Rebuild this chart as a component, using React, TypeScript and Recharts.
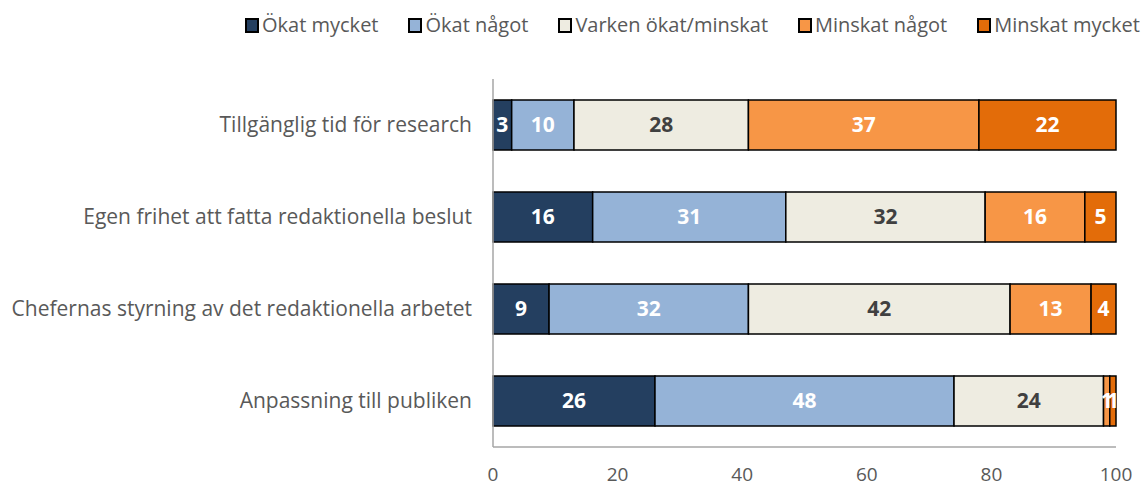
import { BarChart, Bar, XAxis, YAxis, LabelList } from 'recharts'

const categories = [
  'Tillgänglig tid för research',
  'Egen frihet att fatta redaktionella beslut',
  'Chefernas styrning av det redaktionella arbetet',
  'Anpassning till publiken',
]
const okatMycket = [3, 16, 9, 26]
const okatNagot = [10, 31, 32, 48]
const varken = [28, 32, 42, 24]
const minskatNagot = [37, 16, 13, 1]
const minskatMycket = [22, 5, 4, 1]
const xTicks = [0, 20, 40, 60, 80, 100]

const series = [
  { key: 'okatMycket', name: 'Ökat mycket', color: '#243f60', label: '#ffffff' },
  { key: 'okatNagot', name: 'Ökat något', color: '#95b3d7', label: '#ffffff' },
  { key: 'varken', name: 'Varken ökat/minskat', color: '#eeece1', label: '#404040' },
  { key: 'minskatNagot', name: 'Minskat något', color: '#f79646', label: '#ffffff' },
  { key: 'minskatMycket', name: 'Minskat mycket', color: '#e36c09', label: '#ffffff' },
]

const data = categories.map((name, i) => ({
  name,
  okatMycket: okatMycket[i],
  okatNagot: okatNagot[i],
  varken: varken[i],
  minskatNagot: minskatNagot[i],
  minskatMycket: minskatMycket[i],
}))

const font = 'Open Sans, sans-serif'

function LegendBox() {
  return (
    <div
      style={{
        position: 'absolute',
        top: 11,
        left: 245,
        width: 895,
        display: 'flex',
        justifyContent: 'space-between',
        fontFamily: font,
        fontSize: 20,
        lineHeight: '28px',
        color: '#595959',
        whiteSpace: 'nowrap',
      }}
    >
      {series.map((s) => (
        <div key={s.key} style={{ display: 'flex', alignItems: 'center' }}>
          <span style={{ flex: 'none', width: 10, height: 11, background: s.color, border: '2px solid #000', marginRight: 3 }} />
          {s.name}
        </div>
      ))}
    </div>
  )
}

export default function App() {
  return (
    <div style={{ position: 'fixed', top: 0, left: 0, width: 1144, height: 488, background: '#fff', overflow: 'hidden' }}>
      <LegendBox />
      <BarChart
        width={1144}
        height={488}
        data={data}
        layout="vertical"
        barCategoryGap={21}
        margin={{ top: 79, right: 28, bottom: 0, left: 0 }}
      >
        <XAxis
          type="number"
          domain={[0, 100]}
          ticks={xTicks}
          height={41}
          tickLine={false}
          axisLine={{ stroke: '#a6a6a6', strokeWidth: 1.5 }}
          tickSize={0}
          tickMargin={21}
          tick={{ fill: '#595959', fontSize: 19, fontFamily: font }}
        />
        <YAxis
          type="category"
          dataKey="name"
          width={493}
          tickLine={false}
          axisLine={{ stroke: '#a6a6a6', strokeWidth: 1.5 }}
          tickSize={0}
          tickMargin={21}
          tick={{ fill: '#595959', fontSize: 21, fontFamily: font }}
        />
        {series.map((s) => (
          <Bar key={s.key} dataKey={s.key} name={s.name} stackId="a" fill={s.color} stroke="#000" strokeWidth={1.5} isAnimationActive={false}>
            <LabelList dataKey={s.key} position="center" fill={s.label} style={{ fontSize: 21, fontWeight: 700, fontFamily: font }} />
          </Bar>
        ))}
      </BarChart>
    </div>
  )
}
